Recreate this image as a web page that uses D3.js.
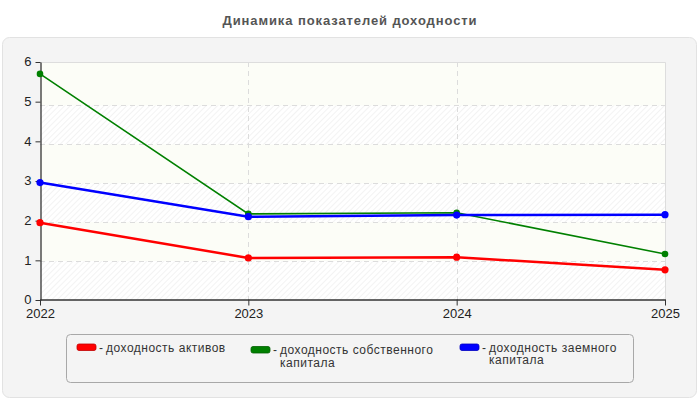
<!DOCTYPE html>
<html>
<head>
<meta charset="utf-8">
<script src="https://cdn.jsdelivr.net/npm/d3@7"></script>
<style>
  body { margin: 0; background: #fff; }
  svg { display: block; font-family: "Liberation Sans", Arial, sans-serif; }
</style>
</head>
<body>
<div id="chart"></div>
<script>
const title = "Динамика показателей доходности";
const years = ["2022", "2023", "2024", "2025"];
const yTicks = [0, 1, 2, 3, 4, 5, 6];
const seriesNames = [
  ["доходность активов"],
  ["доходность собственного", "капитала"],
  ["доходность заемного", "капитала"],
];
const seriesColors = ["#ff0000", "#008000", "#0000ff"];
const assetsReturn = [1.95, 1.06, 1.08, 0.76];
const equityReturn = [5.7, 2.17, 2.2, 1.16];
const debtReturn = [2.96, 2.1, 2.14, 2.15];
const seriesValues = [assetsReturn, equityReturn, debtReturn];

const width = 700, height = 400;
const plot = { left: 40, right: 665, top: 62, bottom: 300 };

const svg = d3.select("#chart").append("svg")
  .attr("width", width).attr("height", height);

// hatch pattern for the plot background
const pattern = svg.append("defs").append("pattern")
  .attr("id", "hatch")
  .attr("patternUnits", "userSpaceOnUse")
  .attr("width", 4).attr("height", 4)
  .attr("patternTransform", "rotate(45)");
pattern.append("rect").attr("width", 4).attr("height", 4).attr("fill", "#ffffff");
pattern.append("line").attr("x1", 0).attr("y1", 0).attr("x2", 0).attr("y2", 4)
  .attr("stroke", "#ececec").attr("stroke-width", 1.2);

svg.append("text")
  .attr("x", width / 2).attr("y", 25)
  .attr("text-anchor", "middle")
  .attr("font-size", 13).attr("font-weight", "bold")
  .attr("letter-spacing", 0.9)
  .attr("fill", "#555")
  .text(title);

svg.append("rect")
  .attr("x", 2.5).attr("y", 37.5).attr("width", 694).attr("height", 360)
  .attr("rx", 7)
  .attr("fill", "#f4f4f4").attr("stroke", "#e2e2e2");

const x = d3.scalePoint().domain(years).range([plot.left, plot.right]);
const y = d3.scaleLinear().domain([0, 6]).range([plot.bottom, plot.top]);
// the grid in the original sits slightly off the tick marks
const yGrid = d3.scaleLinear().domain([0, 6]).range([plot.bottom, plot.top + 4.6]);

svg.append("rect")
  .attr("x", plot.left).attr("y", plot.top)
  .attr("width", plot.right - plot.left).attr("height", plot.bottom - plot.top)
  .attr("fill", "url(#hatch)");

// alternating ivory bands
const bands = [[1, 2], [3, 4], [5, 6]];
svg.append("g").selectAll("rect")
  .data(bands)
  .join("rect")
  .attr("x", plot.left)
  .attr("width", plot.right - plot.left)
  .attr("y", (d) => (d[1] === 6 ? plot.top : yGrid(d[1])))
  .attr("height", (d) => yGrid(d[0]) - (d[1] === 6 ? plot.top : yGrid(d[1])))
  .attr("fill", "#fcfdf7");

// grid lines
svg.append("g").selectAll("line")
  .data(yTicks.slice(1, -1))
  .join("line")
  .attr("x1", plot.left).attr("x2", plot.right)
  .attr("y1", (d) => Math.round(yGrid(d)) + 0.5)
  .attr("y2", (d) => Math.round(yGrid(d)) + 0.5)
  .attr("stroke", "#dcdcdc").attr("stroke-dasharray", "5,4");

svg.append("g").selectAll("line")
  .data(years.slice(1, -1))
  .join("line")
  .attr("x1", (d) => Math.round(x(d)) + 0.5).attr("x2", (d) => Math.round(x(d)) + 0.5)
  .attr("y1", plot.top).attr("y2", plot.bottom)
  .attr("stroke", "#dcdcdc").attr("stroke-dasharray", "5,4");

// plot frame (top and right)
svg.append("path")
  .attr("d", `M${plot.left},${plot.top + 0.5}H${plot.right + 0.5}V${plot.bottom}`)
  .attr("fill", "none").attr("stroke", "#dddddd");

const yAxis = svg.append("g")
  .attr("transform", `translate(${plot.left + 0.5},0)`)
  .call(d3.axisLeft(y).tickValues(yTicks).tickFormat(d3.format("d"))
    .tickSize(5).tickPadding(4).tickSizeOuter(0));
const xAxis = svg.append("g")
  .attr("transform", `translate(0,${plot.bottom - 0.5})`)
  .call(d3.axisBottom(x).tickSize(6).tickPadding(3).tickSizeOuter(0));

[yAxis, xAxis].forEach((g) => {
  g.select(".domain").attr("stroke", "#333").attr("stroke-width", 1.3);
  g.selectAll(".tick line").attr("stroke", "#333");
  g.selectAll(".tick text")
    .attr("font-size", 13)
    .attr("font-family", "Liberation Sans, Arial, sans-serif")
    .attr("fill", "#222");
});
// keep the "0" label clear of the "2022" label below it
yAxis.selectAll(".tick text").attr("dy", "0.3em");

// lines and points
const line = d3.line().x((d, i) => x(years[i])).y((d) => y(d));
const lineWidths = [2.5, 1.6, 2.5];
const radii = [3.6, 3.3, 3.6];
seriesValues.forEach((vals, s) => {
  const g = svg.append("g");
  g.append("path")
    .datum(vals)
    .attr("d", line)
    .attr("fill", "none")
    .attr("stroke", seriesColors[s])
    .attr("stroke-width", lineWidths[s]);
  g.selectAll("circle")
    .data(vals)
    .join("circle")
    .attr("cx", (d, i) => x(years[i]))
    .attr("cy", (d) => y(d))
    .attr("r", radii[s])
    .attr("fill", seriesColors[s]);
});

// legend
svg.append("rect")
  .attr("x", 66.5).attr("y", 334.5).attr("width", 567).attr("height", 48)
  .attr("rx", 4)
  .attr("fill", "#f4f4f4").attr("stroke", "#a8a8a8");

const legendX = [77, 251, 460];
const legendY = [344, 346.5, 344];
const legend = svg.append("g").selectAll("g")
  .data(seriesNames)
  .join("g")
  .attr("transform", (d, i) => `translate(${legendX[i]},${legendY[i]})`);
legend.append("rect")
  .attr("width", 19).attr("height", 6.5).attr("rx", 2)
  .attr("fill", (d, i) => seriesColors[i])
  .attr("stroke", (d, i) => d3.color(seriesColors[i]).darker(0.8))
  .attr("stroke-width", 0.8);
legend.append("text")
  .attr("x", 22).attr("y", 7.5)
  .attr("font-size", 12).attr("fill", "#333")
  .text("-");
legend.each(function (lines) {
  d3.select(this).selectAll("text.label")
    .data(lines)
    .join("text")
    .attr("class", "label")
    .attr("x", 29)
    .attr("y", (d, i) => 7.5 + i * 12.5)
    .attr("font-size", 12)
    .attr("letter-spacing", 0.5)
    .attr("fill", "#333")
    .text((d) => d);
});
</script>
</body>
</html>
